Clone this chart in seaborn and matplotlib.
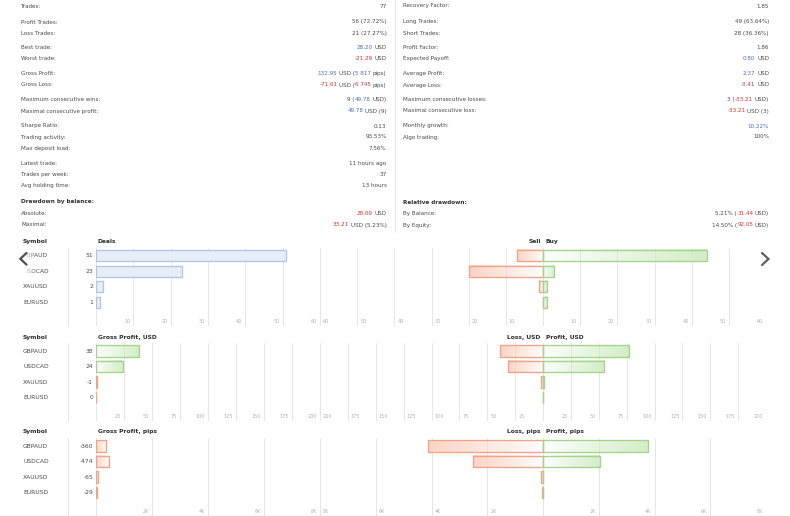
import matplotlib
matplotlib.use("Agg")
import matplotlib.pyplot as plt
import matplotlib.transforms as mtransforms
from matplotlib.colors import to_rgb
import numpy as np
import pandas as pd
import seaborn as sns

# ---------------- data ----------------
symbols = ["GBPAUD", "USDCAD", "XAUUSD", "EURUSD"]
deals = [51, 23, 2, 1]
deals_sell = [7, 20, 1, 0]
deals_buy = [44, 3, 1, 1]
net_usd = [38.3, 24.0, -0.9, -0.05]
loss_usd = [39.0, 31.0, 1.5, 0.1]
profit_usd = [77.3, 55.0, 0.6, 0.05]
net_pips = [-360, -474, -65, -29]
loss_pips = [4130, 2510, 75, 30]
profit_pips = [3770, 2036, 10, 1]

ticks_deals_left = [0, 10, 20, 30, 40, 50, 60]
ticks_deals_right = [-60, -50, -40, -30, -20, -10, 0, 10, 20, 30, 40, 50, 60]
ticks_usd_left = [0, 25, 50, 75, 100, 125, 150, 175, 200]
ticks_usd_right = [-200, -175, -150, -125, -100, -75, -50, -25, 0, 25, 50, 75, 100, 125, 150, 175, 200]
ticks_pips_left = [0, 2000, 4000, 6000, 8000]
ticks_pips_right = [-8000, -6000, -4000, -2000, 0, 2000, 4000, 6000, 8000]

# stats: (label, [(segment, colour-key), ...])
stats_left = [
    ("Trades:", [("77", "n")]),
    ("Profit Trades:", [("56 (72.72%)", "n")]),
    ("Loss Trades:", [("21 (27.27%)", "n")]),
    ("Best trade:", [("28.20", "b"), (" USD", "n")]),
    ("Worst trade:", [("-21.29", "r"), (" USD", "n")]),
    ("Gross Profit:", [("132.95", "b"), (" USD (", "n"), ("5 817", "b"), (" pips)", "n")]),
    ("Gross Loss:", [("-71.61", "r"), (" USD (", "n"), ("6 745", "r"), (" pips)", "n")]),
    ("Maximum consecutive wins:", [("9 (", "n"), ("49.78", "b"), (" USD)", "n")]),
    ("Maximal consecutive profit:", [("49.78", "b"), (" USD (9)", "n")]),
    ("Sharpe Ratio:", [("0.13", "n")]),
    ("Trading activity:", [("93.53%", "n")]),
    ("Max deposit load:", [("7.56%", "n")]),
    ("Latest trade:", [("11 hours ago", "n")]),
    ("Trades per week:", [("37", "n")]),
    ("Avg holding time:", [("13 hours", "n")]),
]
stats_right = [
    ("Recovery Factor:", [("1.85", "n")]),
    ("Long Trades:", [("49 (63.64%)", "n")]),
    ("Short Trades:", [("28 (36.36%)", "n")]),
    ("Profit Factor:", [("1.86", "n")]),
    ("Expected Payoff:", [("0.80", "b"), (" USD", "n")]),
    ("Average Profit:", [("2.37", "b"), (" USD", "n")]),
    ("Average Loss:", [("-3.41", "r"), (" USD", "n")]),
    ("Maximum consecutive losses:", [("3 (", "n"), ("-33.21", "r"), (" USD)", "n")]),
    ("Maximal consecutive loss:", [("-33.21", "r"), (" USD (3)", "n")]),
    ("Monthly growth:", [("10.22%", "b")]),
    ("Algo trading:", [("100%", "n")]),
]
dd_left_title = "Drawdown by balance:"
dd_left = [
    ("Absolute:", [("28.09", "r"), (" USD", "n")]),
    ("Maximal:", [("33.21", "r"), (" USD (5.23%)", "n")]),
]
dd_right_title = "Relative drawdown:"
dd_right = [
    ("By Balance:", [("5.21% (", "n"), ("31.44", "r"), (" USD)", "n")]),
    ("By Equity:", [("14.50% (", "n"), ("92.05", "r"), (" USD)", "n")]),
]

# ---------------- style ----------------
sns.set_style("white")
plt.rcParams["font.family"] = ["DejaVu Sans"]

W, H = 790, 516
fig = plt.figure(figsize=(W / 100, H / 100), dpi=100)
fig.patch.set_facecolor("white")

TXT = "#4a4a4a"
DARK = "#2f2f2f"
BLUE = "#4a70b5"
RED = "#e0302b"
TICK = "#b0b0b0"
GRID = "#e6e6e6"
COL = {"n": TXT, "b": BLUE, "r": RED}
FS = 4.05
FS_CH = 4.35

BLUE_FILL, BLUE_EDGE = "#e7eef8", "#b0c6e4"
GREEN_FILL, GREEN_EDGE = "#d4edc8", "#a2d58b"
RED_FILL, RED_EDGE = "#fbd4c5", "#f2a287"

# text layer in pixel coordinates
ax_t = fig.add_axes([0, 0, 1, 1], zorder=10)
ax_t.set_xlim(0, W)
ax_t.set_ylim(H, 0)
ax_t.axis("off")
renderer = fig.canvas.get_renderer()


def tw(s, **kw):
    t = ax_t.text(0, 0, s, **kw)
    w = t.get_window_extent(renderer).width
    t.remove()
    return w


def adv(s, **kw):
    if s == "":
        return 0.0
    return tw("l" + s + "l", **kw) - tw("ll", **kw)


def rich_right(xr, y, segs, fs=FS):
    full = "".join(s for s, _ in segs)
    x0 = xr - adv(full, fontsize=fs)
    pos = 0
    for s, c in segs:
        lead = len(s) - len(s.lstrip(" "))
        body = s.lstrip(" ")
        start = full[:pos + lead]
        x = x0 + adv(start, fontsize=fs)
        ax_t.text(x, y, body, color=COL[c], fontsize=fs, ha="left", va="center")
        pos += len(s)


# ---------------- stats block ----------------
y_rows_main = [6, 22, 33.3, 47.7, 58.7, 73.7, 85, 99.7, 111, 126, 137, 148.3, 163.3, 174.3, 185.7]
LX1, RX1, LX2, RX2 = 21, 386.5, 403.3, 769

for (lab, segs), y in zip(stats_left, y_rows_main):
    ax_t.text(LX1, y, lab, color=TXT, fontsize=FS, ha="left", va="center")
    rich_right(RX1, y, segs)
for (lab, segs), y in zip(stats_right, y_rows_main):
    ax_t.text(LX2, y, lab, color=TXT, fontsize=FS, ha="left", va="center")
    rich_right(RX2, y, segs)

ax_t.text(LX1, 202, dd_left_title, color=DARK, fontsize=FS, fontweight="bold", ha="left", va="center")
ax_t.text(LX2, 202, dd_right_title, color=DARK, fontsize=FS, fontweight="bold", ha="left", va="center")
for (lab, segs), y in zip(dd_left, [213.3, 225]):
    ax_t.text(LX1, y, lab, color=TXT, fontsize=FS, ha="left", va="center")
    rich_right(RX1, y, segs)
for (lab, segs), y in zip(dd_right, [213.3, 225]):
    ax_t.text(LX2, y, lab, color=TXT, fontsize=FS, ha="left", va="center")
    rich_right(RX2, y, segs)

ax_t.plot([394.5, 394.5], [0, 232], color=GRID, lw=0.8)

# ---------------- chart helpers ----------------
ROW_PX = 15.5
YTOP, YBOT = -0.52, 4.5


def add_px_axes(x0, x1, top):
    h = (YBOT - YTOP) * ROW_PX
    return fig.add_axes([x0 / W, 1 - (top + h) / H, (x1 - x0) / W, h / H])


def grad(ax, p, color, outer):
    w = p.get_width()
    if abs(w) < 1e-9:
        p.set_facecolor("none")
        return
    x0 = p.get_x()
    xl, xr = min(x0, x0 + w), max(x0, x0 + w)
    y0, h = p.get_y(), p.get_height()
    n = 128
    t = np.linspace(0.05, 1.0, n)
    if outer == "left":
        t = t[::-1]
    rgba = np.zeros((1, n, 4))
    rgba[..., :3] = to_rgb(color)
    rgba[..., 3] = t
    ax.imshow(rgba, extent=[xl, xr, y0 + h, y0], aspect="auto",
              interpolation="bilinear", zorder=0.9)
    p.set_facecolor("none")


def style(ax, lim, ticks):
    ax.set_xlim(lim)
    ax.set_ylim(YBOT, YTOP)
    ax.set_xticks(ticks)
    ax.set_yticks([])
    ax.grid(axis="x", color=GRID, lw=0.8)
    ax.grid(axis="y", visible=False)
    ax.set_axisbelow(True)
    ax.tick_params(length=0, labelbottom=False, labelleft=False)
    ax.set_xlabel("")
    ax.set_ylabel("")
    for s in ax.spines.values():
        s.set_visible(False)
    ax.patch.set_alpha(0)


def tick_texts(ax, ticks, fmt, side):
    for v in ticks:
        if v == 0:
            continue
        if side == "left" or v > 0:
            ax.annotate(fmt(abs(v)), xy=(v, 4.23), xytext=(-3, 0), textcoords="offset pixels",
                        ha="right", va="center", fontsize=3.5, color=TICK)
        else:
            ax.annotate(fmt(abs(v)), xy=(v, 4.23), xytext=(3, 0), textcoords="offset pixels",
                        ha="left", va="center", fontsize=3.5, color=TICK)


def bars(ax, vals, edge):
    before = len(ax.patches)
    df = pd.DataFrame({"Symbol": symbols, "v": vals})
    sns.barplot(data=df, x="v", y="Symbol", orient="h", ax=ax, width=0.72,
                color="white", edgecolor=edge, linewidth=0.95, errorbar=None)
    return ax.patches[before:]


fmt_int = lambda v: f"{int(v)}"
fmt_k = lambda v: f"{int(v / 1000)}K"

rows = [
    dict(top=247.7, left_title="Deals", l_title="Sell", r_title="Buy"),
    dict(top=343.0, left_title="Gross Profit, USD", l_title="Loss, USD", r_title="Profit, USD"),
    dict(top=438.0, left_title="Gross Profit, pips", l_title="Loss, pips", r_title="Profit, pips"),
]

for r_i, row in enumerate(rows):
    top = row["top"]
    axL = add_px_axes(96, 320, top)
    axR = add_px_axes(320, 766, top)

    if r_i == 0:
        left_vals, lims_l, t_l, fmt = deals, (0, 60), ticks_deals_left, fmt_int
        lv, rv, lims_r, t_r = deals_sell, deals_buy, (-60, 60), ticks_deals_right
    elif r_i == 1:
        left_vals, lims_l, t_l, fmt = net_usd, (0, 200), ticks_usd_left, fmt_int
        lv, rv, lims_r, t_r = loss_usd, profit_usd, (-200, 200), ticks_usd_right
    else:
        left_vals, lims_l, t_l, fmt = net_pips, (0, 8000), ticks_pips_left, fmt_k
        lv, rv, lims_r, t_r = loss_pips, profit_pips, (-8000, 8000), ticks_pips_right

    # left panel
    if r_i == 0:
        ps = bars(axL, [abs(v) for v in left_vals], BLUE_EDGE)
        for p in ps:
            p.set_facecolor(BLUE_FILL)
    else:
        ps = bars(axL, [abs(v) for v in left_vals], GREEN_EDGE)
        for p, v in zip(ps, left_vals):
            if v >= 0:
                grad(axL, p, GREEN_FILL, "right")
            else:
                p.set_edgecolor(RED_EDGE)
                grad(axL, p, RED_FILL, "left")
    for i, v in enumerate(left_vals):
        axL.annotate(f"{int(round(v))}", xy=(0, i), xytext=(-3, 0), textcoords="offset pixels",
                     ha="right", va="center", fontsize=FS_CH, color=TXT)
    style(axL, lims_l, t_l)
    tick_texts(axL, t_l, fmt, "left")

    # right panel (diverging)
    ps = bars(axR, [-v for v in lv], RED_EDGE)
    for p in ps:
        grad(axR, p, RED_FILL, "left")
    ps = bars(axR, rv, GREEN_EDGE)
    for p in ps:
        grad(axR, p, GREEN_FILL, "right")
    style(axR, lims_r, t_r)
    tick_texts(axR, t_r, fmt, "right")

    # labels in text layer
    blend = mtransforms.blended_transform_factory(ax_t.transData, axL.transData)
    for i, s in enumerate(symbols):
        ax_t.text(23, i, s, transform=blend, ha="left", va="center", fontsize=FS_CH, color=TXT)
    ax_t.text(23, top - 6, "Symbol", ha="left", va="center", fontsize=FS_CH, color=DARK, fontweight="bold")
    ax_t.text(98, top - 6, row["left_title"], ha="left", va="center", fontsize=FS_CH, color=DARK, fontweight="bold")
    ax_t.text(540.7, top - 6, row["l_title"], ha="right", va="center", fontsize=FS_CH, color=DARK, fontweight="bold")
    ax_t.text(545.7, top - 6, row["r_title"], ha="left", va="center", fontsize=FS_CH, color=DARK, fontweight="bold")
    ax_t.plot([68, 68], [top, min(top + (YBOT - YTOP) * ROW_PX, H)], color=GRID, lw=0.8)

# carousel overlay and arrows
n = 64
fade = np.ones((1, n, 4))
a = np.ones(n) * 0.92
a[int(n * 0.55):] = np.linspace(0.75, 0.0, n - int(n * 0.55))
fade[..., 3] = a
ax_t.imshow(fade, extent=[14, 37, 280, 246], aspect="auto", interpolation="bilinear", zorder=15)
ax_t.plot([26.5, 20.3, 26.5], [253, 258.8, 264.6], color="#505050", lw=1.6, zorder=20,
          solid_joinstyle="miter")
ax_t.plot([762, 768.5, 762], [253, 259, 265], color="#606060", lw=1.6, zorder=20,
          solid_joinstyle="miter")
ax_t.set_xlim(0, W)
ax_t.set_ylim(H, 0)

fig.savefig("out.png", dpi=100, facecolor="white")
